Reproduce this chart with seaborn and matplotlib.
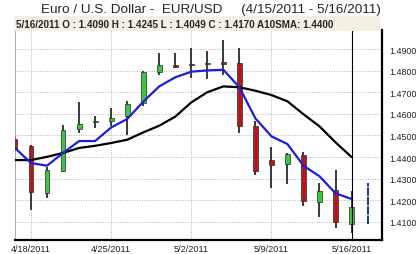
import matplotlib
matplotlib.use("Agg")
import matplotlib.pyplot as plt
import numpy as np
import pandas as pd
import seaborn as sns

# ── data ─────────────────────────────────────────────────────────────────────
dates = ["4/15/2011", "4/18/2011", "4/19/2011", "4/20/2011", "4/21/2011",
         "4/22/2011", "4/25/2011", "4/26/2011", "4/27/2011", "4/28/2011",
         "4/29/2011", "5/2/2011", "5/3/2011", "5/4/2011", "5/5/2011",
         "5/6/2011", "5/9/2011", "5/10/2011", "5/11/2011", "5/12/2011",
         "5/13/2011", "5/16/2011"]
opens = [1.4483, 1.4450, 1.4235, 1.4337, 1.4530, 1.4561, 1.4565, 1.4590,
         1.4650, 1.4795, 1.4826, 1.4832, 1.4832, 1.4838, 1.4834, 1.4542,
         1.4385, 1.4370, 1.4409, 1.4193, 1.4246, 1.4090]
highs = [1.4499, 1.4455, 1.4352, 1.4550, 1.4655, 1.4588, 1.4628, 1.4658,
         1.4800, 1.4881, 1.4881, 1.4905, 1.4892, 1.4943, 1.4905, 1.4568,
         1.4445, 1.4419, 1.4422, 1.4280, 1.4338, 1.4245]
lows = [1.4428, 1.4155, 1.4210, 1.4330, 1.4510, 1.4536, 1.4542, 1.4500,
        1.4638, 1.4780, 1.4810, 1.4766, 1.4761, 1.4780, 1.4510, 1.4315,
        1.4256, 1.4274, 1.4175, 1.4124, 1.4070, 1.4049]
closes = [1.4437, 1.4240, 1.4340, 1.4526, 1.4555, 1.4566, 1.4582, 1.4644,
          1.4792, 1.4826, 1.4818, 1.4828, 1.4836, 1.4832, 1.4545, 1.4337,
          1.4365, 1.4412, 1.4198, 1.4244, 1.4100, 1.4170]
sma10 = [1.4386, 1.4386, 1.4401, 1.4419, 1.4442, 1.4452, 1.4465, 1.4480,
         1.4514, 1.4545, 1.4587, 1.4653, 1.4700, 1.4727, 1.4723, 1.4707,
         1.4687, 1.4658, 1.4598, 1.4542, 1.4468, 1.4400]
sma5 = [1.4442, 1.4372, 1.4360, 1.4419, 1.4474, 1.4474, 1.4537, 1.4576,
        1.4656, 1.4727, 1.4769, 1.4795, 1.4801, 1.4804, 1.4723, 1.4579,
        1.4496, 1.4460, 1.4360, 1.4311, 1.4232, 1.4206]
# trailing (live) bar drawn in blue
next_bar_low, next_bar_high = 1.4090, 1.4280

tick_dates = ["4/18/2011", "4/25/2011", "5/2/2011", "5/9/2011", "5/16/2011"]
y_ticks = [1.41, 1.42, 1.43, 1.44, 1.45, 1.46, 1.47, 1.48, 1.49]

df = pd.DataFrame({"date": dates, "open": opens, "high": highs,
                   "low": lows, "close": closes, "sma10": sma10, "sma5": sma5})
df["i"] = np.arange(len(df))

# ── figure ───────────────────────────────────────────────────────────────────
sns.set_style("white")
plt.rcParams["font.family"] = ["Liberation Sans", "DejaVu Sans"]

W, H = 416, 255
fig = plt.figure(figsize=(W / 100, H / 100), dpi=100)
fig.patch.set_facecolor("white")
ax = fig.add_axes([15 / W, 14 / H, (382 - 15) / W, (241 - 31) / H])

# grid
for v in y_ticks:
    ax.axhline(v, color="#b4b4b4", lw=0.7, ls=(0, (1, 1.5)), zorder=0)
for d in tick_dates:
    ax.axvline(dates.index(d), color="#b4b4b4", lw=0.7, ls=(0, (1, 1.5)), zorder=0)

# candles
up = df["close"] >= df["open"]
ax.vlines(df["i"], df["low"], df["high"], color="#2a2a2a", lw=1.3, zorder=2)
body_lo = np.minimum(df["open"], df["close"])
body_h = np.maximum(np.abs(df["close"] - df["open"]), 0.0004)
ax.bar(df["i"], body_h, bottom=body_lo, width=0.3,
       color=np.where(up, "#3cc63c", "#b3191c"),
       edgecolor="#2a2a2a", linewidth=0.5, zorder=3)

# moving averages
sns.lineplot(data=df, x="i", y="sma10", color="black", lw=1.6, ax=ax, zorder=4)
sns.lineplot(data=df, x="i", y="sma5", color="#1d1ddb", lw=1.6, ax=ax, zorder=5)

# live bar + crosshair
ax.vlines(len(df), next_bar_low, next_bar_high, color="#1f3c8f", lw=1.5,
          ls=(0, (4, 0.5)), zorder=3)
ax.axvline(len(df) - 1, color="black", lw=0.8, zorder=6)

ax.set_xlim(0, 22.9)
ax.set_ylim(1.4016, 1.4988)
ax.set_xlabel("")
ax.set_ylabel("")
ax.set_xticks([dates.index(d) for d in tick_dates])
ax.set_xticklabels(tick_dates, fontsize=6.6)
ax.yaxis.tick_right()
ax.set_yticks(y_ticks)
ax.set_yticklabels([f"{v:.4f}" for v in y_ticks], fontsize=6.4)
ax.tick_params(axis="both", length=0, pad=3, colors="#222222")
ax.tick_params(axis="y", pad=5)

ax.spines["top"].set_visible(False)
ax.spines["left"].set_color("#9a9a9a")
ax.spines["left"].set_linewidth(0.6)
ax.spines["bottom"].set_color("black")
ax.spines["bottom"].set_linewidth(1.6)
ax.spines["right"].set_color("black")
ax.spines["right"].set_linewidth(1.6)

# header band with OHLC readout
fig.patches.append(plt.Rectangle((14 / W, 1 - 32 / H), (380 - 14) / W, 15 / H,
                                 transform=fig.transFigure, facecolor="#f3f0e3",
                                 edgecolor="none", zorder=10))
last = df.iloc[-1]
fig.text(16 / W, 1 - 24.5 / H,
         f"{last['date']} O : {last['open']:.4f} H : {last['high']:.4f} "
         f"L : {last['low']:.4f} C : {last['close']:.4f} A10SMA: {last['sma10']:.4f}",
         fontsize=7.1, fontweight="bold", va="center", ha="left", zorder=11)

fig.text(211 / W, 1 - 9.5 / H,
         "Euro / U.S. Dollar -  EUR/USD     (4/15/2011 - 5/16/2011)",
         fontsize=9.7, va="center", ha="center")

fig.savefig("out.png", dpi=100)
